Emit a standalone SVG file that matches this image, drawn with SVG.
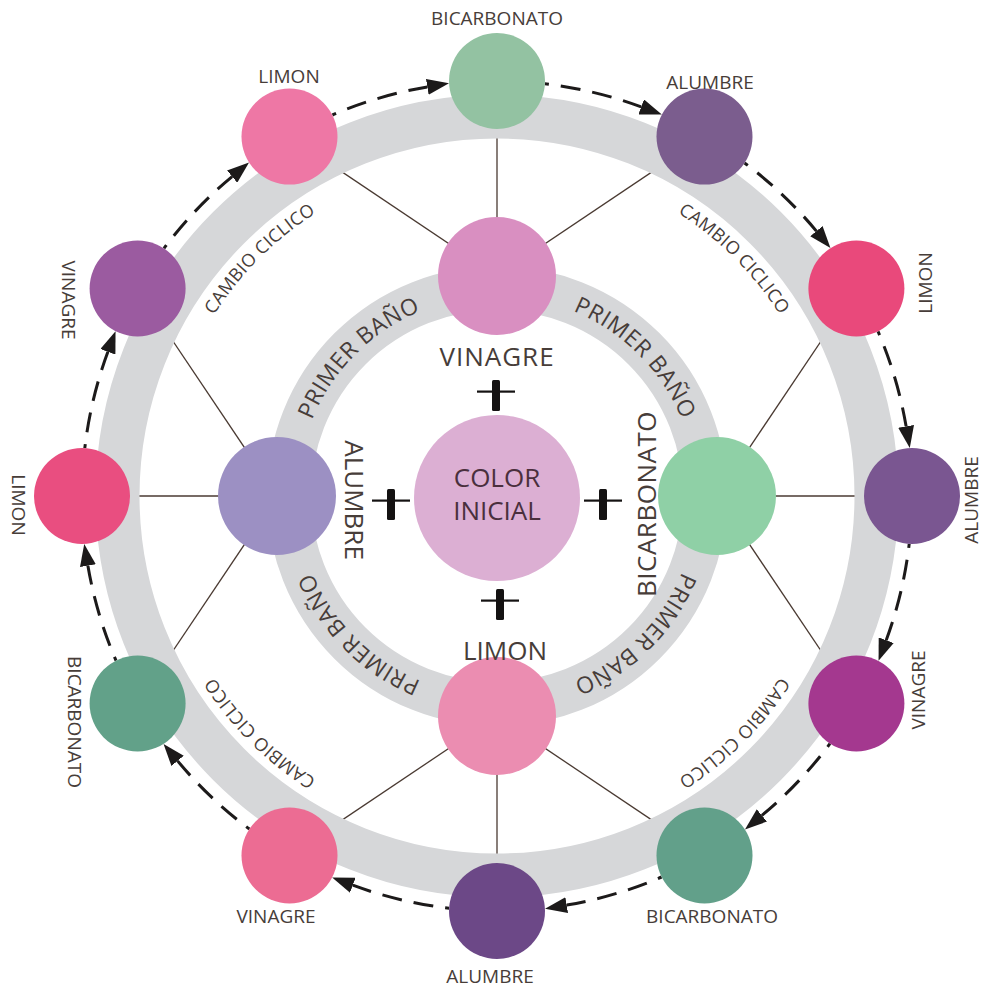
<svg xmlns="http://www.w3.org/2000/svg" width="985" height="990" viewBox="0 0 985 990">
  <style>
    .t { font-family: "Open Sans", "Liberation Sans", sans-serif; fill: #473d39; text-anchor: middle; }
    .lbl { font-size: 19px; }
    .inl { font-size: 26px; }
    .ring1 { font-size: 23px; letter-spacing: 0.5px; }
    .ring2 { font-size: 18px; letter-spacing: 0.3px; }
    .band { fill: none; stroke: #d6d7d9; stroke-width: 44; }
    .spoke { stroke: #4a3a32; stroke-width: 1.3; }
    .flow { fill: none; stroke: #1c1a1a; stroke-width: 3; stroke-dasharray: 20 12; stroke-dashoffset: 16; marker-end: url(#head); }
  </style>
  <defs>
    <marker id="head" markerUnits="userSpaceOnUse" markerWidth="22" markerHeight="16" viewBox="0 0 22 16" refX="0" refY="8" orient="auto">
      <path d="M0,0 L22,8 L0,16 z" fill="#1c1a1a"/>
    </marker>
    <g id="plus" fill="#141212">
      <rect x="-4" y="-15" width="8" height="31" rx="1.5"/>
      <rect x="-19" y="-4.5" width="38" height="2.2"/>
    </g>
    <path id="ringInner" d="M297,496 A200,200 0 1 1 697,496 A200,200 0 1 1 297,496"/>
    <path id="ringOuter" d="M161,496 A336,336 0 1 1 833,496 A336,336 0 1 1 161,496"/>
  </defs>

  <rect width="985" height="990" fill="#ffffff"/>

  <!-- spokes from each first-bath node to its three cyclic nodes -->
  <g id="connectors">
    <g id="spokes">
      <line class="spoke" x1="497" y1="276" x2="289.5" y2="136.6"/>
      <line class="spoke" x1="497" y1="276" x2="497" y2="81"/>
      <line class="spoke" x1="497" y1="276" x2="704.5" y2="136.6"/>
      <line class="spoke" x1="717" y1="496" x2="856.4" y2="288.5"/>
      <line class="spoke" x1="717" y1="496" x2="912" y2="496"/>
      <line class="spoke" x1="717" y1="496" x2="856.4" y2="703.5"/>
      <line class="spoke" x1="497" y1="716" x2="704.5" y2="855.4"/>
      <line class="spoke" x1="497" y1="716" x2="497" y2="911"/>
      <line class="spoke" x1="497" y1="716" x2="289.5" y2="855.4"/>
      <line class="spoke" x1="277" y1="496" x2="137.6" y2="703.5"/>
      <line class="spoke" x1="277" y1="496" x2="82" y2="496"/>
      <line class="spoke" x1="277" y1="496" x2="137.6" y2="288.5"/>
    </g>
  </g>

  <!-- grey rings -->
  <circle class="band" cx="497" cy="496" r="379.5"/>
  <circle class="band" cx="497" cy="496" r="208"/>

  <!-- ring captions -->
  <text class="t ring1"><textPath href="#ringInner" startOffset="12.5%">PRIMER BAÑO</textPath></text>
  <text class="t ring1"><textPath href="#ringInner" startOffset="37.5%">PRIMER BAÑO</textPath></text>
  <text class="t ring1"><textPath href="#ringInner" startOffset="62.5%">PRIMER BAÑO</textPath></text>
  <text class="t ring1"><textPath href="#ringInner" startOffset="87.5%">PRIMER BAÑO</textPath></text>
  <text class="t ring2"><textPath href="#ringOuter" startOffset="12.5%">CAMBIO CICLICO</textPath></text>
  <text class="t ring2"><textPath href="#ringOuter" startOffset="37.5%">CAMBIO CICLICO</textPath></text>
  <text class="t ring2"><textPath href="#ringOuter" startOffset="62.5%">CAMBIO CICLICO</textPath></text>
  <text class="t ring2"><textPath href="#ringOuter" startOffset="87.5%">CAMBIO CICLICO</textPath></text>

  <!-- cyclic change arrows, clockwise -->
  <g id="cycle-arrows">
    <path class="flow" d="M544.9,83.8 A415,415 0 0 1 641.2,106.9"/>
    <path class="flow" d="M744.6,163.0 A415,415 0 0 1 816.4,231.1"/>
    <path class="flow" d="M878.0,331.4 A415,415 0 0 1 906.1,426.3"/>
    <path class="flow" d="M909.2,543.9 A415,415 0 0 1 886.2,640.2"/>
    <path class="flow" d="M830.0,743.6 A415,415 0 0 1 761.9,815.4"/>
    <path class="flow" d="M661.6,877.0 A415,415 0 0 1 566.7,905.1"/>
    <path class="flow" d="M449.1,908.2 A415,415 0 0 1 352.8,885.2"/>
    <path class="flow" d="M249.4,829.0 A415,415 0 0 1 177.6,760.9"/>
    <path class="flow" d="M116.0,660.6 A415,415 0 0 1 87.9,565.7"/>
    <path class="flow" d="M84.8,448.1 A415,415 0 0 1 107.9,351.8"/>
    <path class="flow" d="M164.0,248.4 A415,415 0 0 1 232.1,176.6"/>
    <path class="flow" d="M332.4,115.0 A415,415 0 0 1 427.3,86.9"/>
  </g>

  <!-- centre -->
  <g id="color-inicial">
    <circle cx="497" cy="498" r="83" fill="#dcafd3"/>
    <text class="t inl" x="497" y="487" style="fill:#4a2f3d">COLOR</text>
    <text class="t inl" x="497" y="520" style="fill:#4a2f3d">INICIAL</text>
  </g>

  <use href="#plus" x="496" y="395"/>
  <use href="#plus" x="391" y="504"/>
  <use href="#plus" x="603" y="504"/>
  <use href="#plus" x="500" y="604"/>

  <!-- first bath -->
  <g id="pb-vinagre">
    <circle cx="497" cy="276" r="59" fill="#d98fc1"/>
    <text class="t inl" x="497" y="366" letter-spacing="1">VINAGRE</text>
  </g>
  <g id="pb-bicarbonato">
    <circle cx="717" cy="496" r="59" fill="#8fd0a6"/>
    <text class="t inl" transform="translate(656,504) rotate(-90)" letter-spacing="0.5">BICARBONATO</text>
  </g>
  <g id="pb-limon">
    <circle cx="497" cy="716" r="59" fill="#eb8db1"/>
    <text class="t inl" x="505" y="660">LIMON</text>
  </g>
  <g id="pb-alumbre">
    <circle cx="277" cy="496" r="59" fill="#9c90c3"/>
    <text class="t inl" transform="translate(345,500) rotate(90)">ALUMBRE</text>
  </g>

  <!-- cyclic change -->
  <g id="cc-bicarbonato-1">
    <circle cx="497" cy="81" r="48" fill="#93c2a2"/>
    <text class="t lbl" x="497" y="25">BICARBONATO</text>
  </g>
  <g id="cc-alumbre-1">
    <circle cx="704.5" cy="136.6" r="48" fill="#7b5d8e"/>
    <text class="t lbl" x="710" y="89">ALUMBRE</text>
  </g>
  <g id="cc-limon-1">
    <circle cx="856.4" cy="288.5" r="48" fill="#e9497b"/>
    <text class="t lbl" transform="translate(932,283) rotate(-90)">LIMON</text>
  </g>
  <g id="cc-alumbre-2">
    <circle cx="912" cy="496" r="48" fill="#7a5691"/>
    <text class="t lbl" transform="translate(978,500) rotate(-90)">ALUMBRE</text>
  </g>
  <g id="cc-vinagre-1">
    <circle cx="856.4" cy="703.5" r="48" fill="#a4388f"/>
    <text class="t lbl" transform="translate(925,690) rotate(-90)">VINAGRE</text>
  </g>
  <g id="cc-bicarbonato-2">
    <circle cx="704.5" cy="855.4" r="48" fill="#62a08a"/>
    <text class="t lbl" x="712" y="923">BICARBONATO</text>
  </g>
  <g id="cc-alumbre-3">
    <circle cx="497" cy="911" r="48" fill="#6c4887"/>
    <text class="t lbl" x="490" y="983">ALUMBRE</text>
  </g>
  <g id="cc-vinagre-2">
    <circle cx="289.5" cy="855.4" r="48" fill="#ec6c93"/>
    <text class="t lbl" x="276" y="923">VINAGRE</text>
  </g>
  <g id="cc-bicarbonato-3">
    <circle cx="137.6" cy="703.5" r="48" fill="#62a189"/>
    <text class="t lbl" transform="translate(68,722) rotate(90)">BICARBONATO</text>
  </g>
  <g id="cc-limon-2">
    <circle cx="82" cy="496" r="48" fill="#e94e80"/>
    <text class="t lbl" transform="translate(12,505) rotate(90)">LIMON</text>
  </g>
  <g id="cc-vinagre-3">
    <circle cx="137.6" cy="288.5" r="48" fill="#9b5ba0"/>
    <text class="t lbl" transform="translate(62,300) rotate(90)">VINAGRE</text>
  </g>
  <g id="cc-limon-3">
    <circle cx="289.5" cy="136.6" r="48" fill="#ee77a5"/>
    <text class="t lbl" x="289" y="83">LIMON</text>
  </g>
</svg>
